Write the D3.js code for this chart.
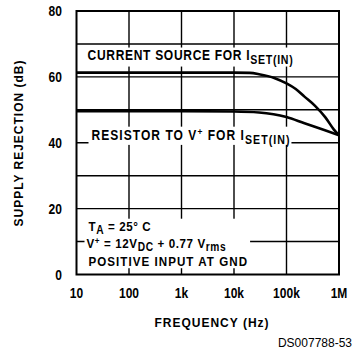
<!DOCTYPE html>
<html><head><meta charset="utf-8">
<script src="https://cdn.jsdelivr.net/npm/d3@7"></script>
<style>
html,body{margin:0;padding:0;background:#fff;}
svg{display:block;}
.lbl{font-family:"Liberation Sans",Arial,sans-serif;font-weight:bold;fill:#000;}
.foot{font-family:"Liberation Sans",Arial,sans-serif;fill:#000;}
</style></head><body>
<svg id="chart" width="359" height="353"></svg>
<script>
// Frequency axis (log decades) and supply-rejection axis
const freqTicks  = [10, 100, 1e3, 1e4, 1e5, 1e6];
const freqLabels = ["10", "100", "1k", "10k", "100k", "1M"];
const dbGrid     = [10, 20, 30, 40, 50, 60, 70];
const dbLabels   = [0, 20, 40, 60, 80];

// Current source for ISET(IN)
const currentSourceFreq = [10, 1e3, 1e4, 2e4, 3e4, 6e4, 1e5, 1.5e5, 2.2e5, 3.5e5, 5.5e5, 8e5, 1e6];
const currentSourceDb   = [61.3, 61.3, 61.3, 61.2, 60.8, 59.6, 58.0, 56.3, 54.0, 51.2, 47.7, 44.0, 42.3];

// Resistor to V+ for ISET(IN)
const resistorFreq = [10, 1e3, 1e4, 3e4, 1e5, 2.2e5, 5.4e5, 1e6];
const resistorDb   = [49.6, 49.6, 49.5, 49.2, 47.8, 45.9, 43.8, 42.3];

const svg = d3.select("#chart");
const x = d3.scaleLog().domain([10, 1e6]).range([76.5, 339]);
const y = d3.scaleLinear().domain([0, 80]).range([274.5, 11]);

const NARROW = 0.86;   // condensed look for the bold lettering
const FS = 14;

const gGrid = svg.append("g");
const gBg = svg.append("g");
const gCurves = svg.append("g");
const gText = svg.append("g");
const gFrame = svg.append("g");

// grid
gGrid.selectAll("line.v").data(freqTicks.slice(1, -1)).join("line")
  .attr("x1", d => x(d)).attr("x2", d => x(d))
  .attr("y1", y(80)).attr("y2", y(0))
  .attr("stroke", "#000").attr("stroke-width", 1.4);
gGrid.selectAll("line.h").data(dbGrid).join("line")
  .attr("x1", x(10)).attr("x2", x(1e6))
  .attr("y1", d => y(d)).attr("y2", d => y(d))
  .attr("stroke", "#000").attr("stroke-width", 1.4);

// frame
gFrame.append("rect")
  .attr("x", x(10)).attr("y", y(80))
  .attr("width", x(1e6) - x(10)).attr("height", y(0) - y(80))
  .attr("fill", "none").attr("stroke", "#000").attr("stroke-width", 2);

// curves
const line = d3.line().x(d => x(d[0])).y(d => y(d[1])).curve(d3.curveMonotoneX);
[[currentSourceFreq, currentSourceDb], [resistorFreq, resistorDb]].forEach(([f, v]) => {
  gCurves.append("path")
    .datum(f.map((fi, i) => [fi, v[i]]))
    .attr("d", line)
    .attr("fill", "none").attr("stroke", "#000").attr("stroke-width", 2.6)
    .attr("stroke-linejoin", "round");
});

// condensed text anchored at (px, py)
function narrowText(px, py, anchor, size, spacing) {
  const g = gText.append("g").attr("transform", `translate(${px},${py}) scale(${NARROW},1)`);
  return g.append("text").attr("class", "lbl").attr("font-size", size)
    .attr("letter-spacing", spacing || 0).attr("text-anchor", anchor);
}

// axis tick labels
dbLabels.forEach(d => narrowText(62, y(d) + 5, "end", FS).text(d));
freqTicks.forEach((d, i) => narrowText(x(d), 298, "middle", FS).text(freqLabels[i]));

gText.append("text").attr("class", "lbl").attr("font-size", 12)
  .attr("letter-spacing", 1)
  .attr("x", 212).attr("y", 327).attr("text-anchor", "middle")
  .text("FREQUENCY (Hz)");
gText.append("text").attr("class", "lbl").attr("font-size", 12)
  .attr("letter-spacing", 1)
  .attr("transform", "translate(23,143) rotate(-90)").attr("text-anchor", "middle")
  .text("SUPPLY REJECTION (dB)");
gText.append("text").attr("class", "foot").attr("font-size", 12)
  .attr("x", 352).attr("y", 347).attr("text-anchor", "end")
  .text("DS007788-53");

// rich text: parts of {t, sub, sup}
function rich(textSel, parts, subShift) {
  let shift = 0;
  parts.forEach(p => {
    const target = p.sub ? subShift : p.sup ? -4.5 : 0;
    textSel.append("tspan")
      .attr("dy", target - shift)
      .attr("font-size", p.sub ? "0.88em" : p.sup ? "0.7em" : null)
      .text(p.t);
    shift = target;
  });
  return textSel;
}

// white backing behind a block of labels so the grid breaks around it
function whiteBox(nodes, pad) {
  const boxes = nodes.map(n => {
    const b = n.getBBox();
    const t = n.parentNode.transform.baseVal.consolidate().matrix;
    return {x0: t.e + b.x * t.a, x1: t.e + (b.x + b.width) * t.a, y0: t.f + b.y, y1: t.f + b.y + b.height};
  });
  const x0 = d3.min(boxes, b => b.x0) - pad[3];
  const y0 = d3.min(boxes, b => b.y0) - pad[0];
  const x1 = d3.max(boxes, b => b.x1) + pad[1];
  const y1 = d3.max(boxes, b => b.y1) + pad[2];
  gBg.append("rect").attr("x", x0).attr("y", y0)
    .attr("width", x1 - x0).attr("height", y1 - y0).attr("fill", "#fff");
}

const t1 = rich(narrowText(x(10) + 11, y(65), "start", FS, 0.8),
  [{t: "CURRENT SOURCE FOR I"}, {t: "SET(IN)", sub: true}], 4);
whiteBox([t1.node()], [0, 2, 0, 3]);

const t2 = rich(narrowText(x(10) + 15, y(40) - 3, "start", FS, 1.2),
  [{t: "RESISTOR TO V"}, {t: "+", sup: true}, {t: " FOR I"}, {t: "SET(IN)", sub: true}], 4);
whiteBox([t2.node()], [0, 1, -1, 3]);

// test conditions block
const BFS = 13.5;
const bx = x(10) + 12;
const b1 = rich(narrowText(bx, 230.5, "start", BFS, 0.7),
  [{t: "T"}, {t: "A", sub: true}, {t: " = 25° C"}], 3);
const b2 = rich(narrowText(bx - 2, 248.3, "start", BFS, 0.7),
  [{t: "V"}, {t: "+", sup: true}, {t: " = 12V"}, {t: "DC", sub: true}, {t: " + 0.77 V"}, {t: "rms", sub: true}], 3);
const b3 = rich(narrowText(bx, 266, "start", BFS, 1.2),
  [{t: "POSITIVE INPUT AT GND"}], 3);
whiteBox([b1.node(), b2.node(), b3.node()], [0, 2, -1, 2]);
</script>
</body></html>
